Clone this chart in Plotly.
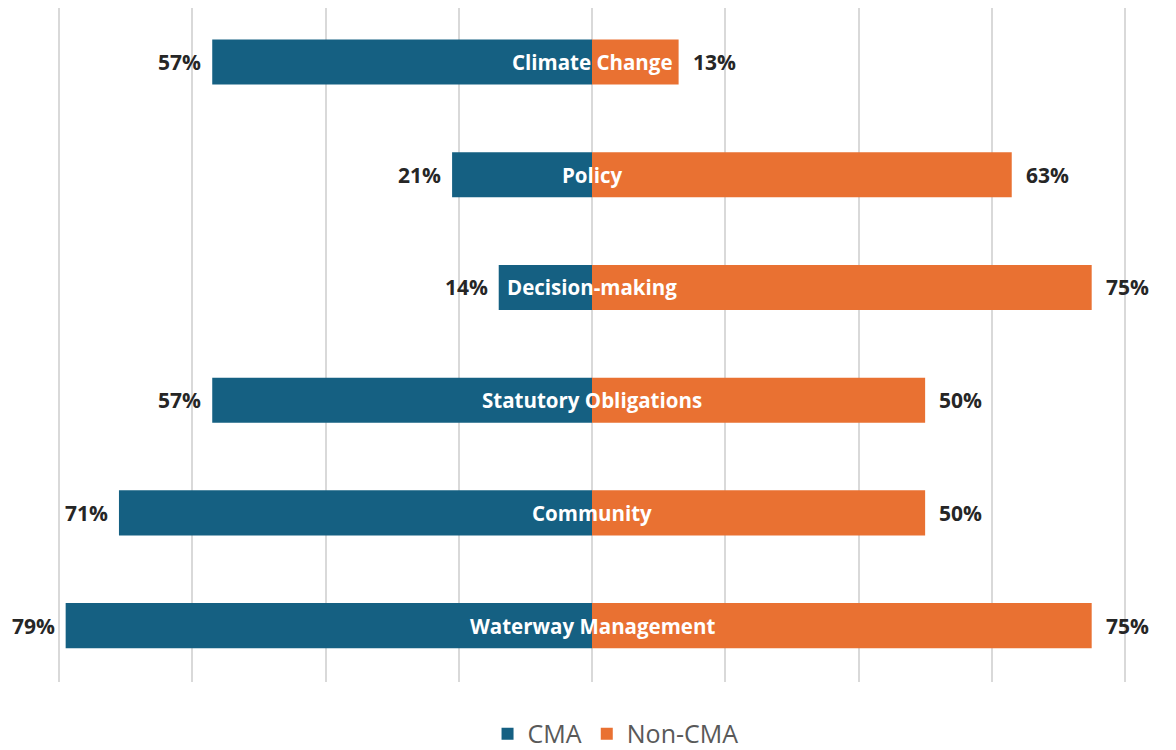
import plotly.graph_objects as go

categories = ["Climate Change", "Policy", "Decision-making", "Statutory Obligations", "Community", "Waterway Management"]
cma = [57, 21, 14, 57, 71, 79]
non_cma = [13, 63, 75, 50, 50, 75]
tick_vals = [-80, -60, -40, -20, 0, 20, 40, 60, 80]

CMA_COLOR = "#156082"
NON_COLOR = "#E97132"
FONT = "Open Sans, Roboto, sans-serif"

fig = go.Figure()
fig.add_trace(go.Bar(
    y=categories, x=[-v for v in cma], orientation="h", name="CMA",
    marker=dict(color=CMA_COLOR, line=dict(width=0)), hoverinfo="skip",
))
fig.add_trace(go.Bar(
    y=categories, x=non_cma, orientation="h", name="Non-CMA",
    marker=dict(color=NON_COLOR, line=dict(width=0)), hoverinfo="skip",
))

annotations = []
for c, a, b in zip(categories, cma, non_cma):
    annotations.append(dict(x=-a, y=c, text=f"{a}%", showarrow=False, xanchor="right",
                            xshift=-9, font=dict(family=FONT, size=21, color="#262626", weight="bold")))
    annotations.append(dict(x=b, y=c, text=f"{b}%", showarrow=False, xanchor="left",
                            xshift=12, font=dict(family=FONT, size=21, color="#262626", weight="bold")))
    annotations.append(dict(x=0, y=c, text=c, showarrow=False, xanchor="center",
                            font=dict(family=FONT, size=20.5, color="white", weight="bold")))

fig.update_layout(
    width=1176, height=750,
    margin=dict(l=49, r=57, t=0, b=76),
    barmode="relative", bargap=0.6,
    plot_bgcolor="white", paper_bgcolor="white",
    xaxis=dict(range=[-80.3, 80.3], tickvals=tick_vals, showticklabels=False,
               showgrid=True, gridcolor="#d9d9d9", gridwidth=1.5,
               zeroline=True, zerolinecolor="#d9d9d9", zerolinewidth=1.5, fixedrange=True),
    yaxis=dict(categoryorder="array", categoryarray=categories, range=[5.5, -0.479],
               showticklabels=False, showgrid=False, zeroline=False, fixedrange=True),
    showlegend=True,
    legend=dict(orientation="h", x=0.522, xanchor="center", y=-0.077, yanchor="middle",
                font=dict(family=FONT, size=25, color="#595959"), itemwidth=30,
                tracegroupgap=0),
    annotations=annotations,
)

fig.write_html("out.html")
